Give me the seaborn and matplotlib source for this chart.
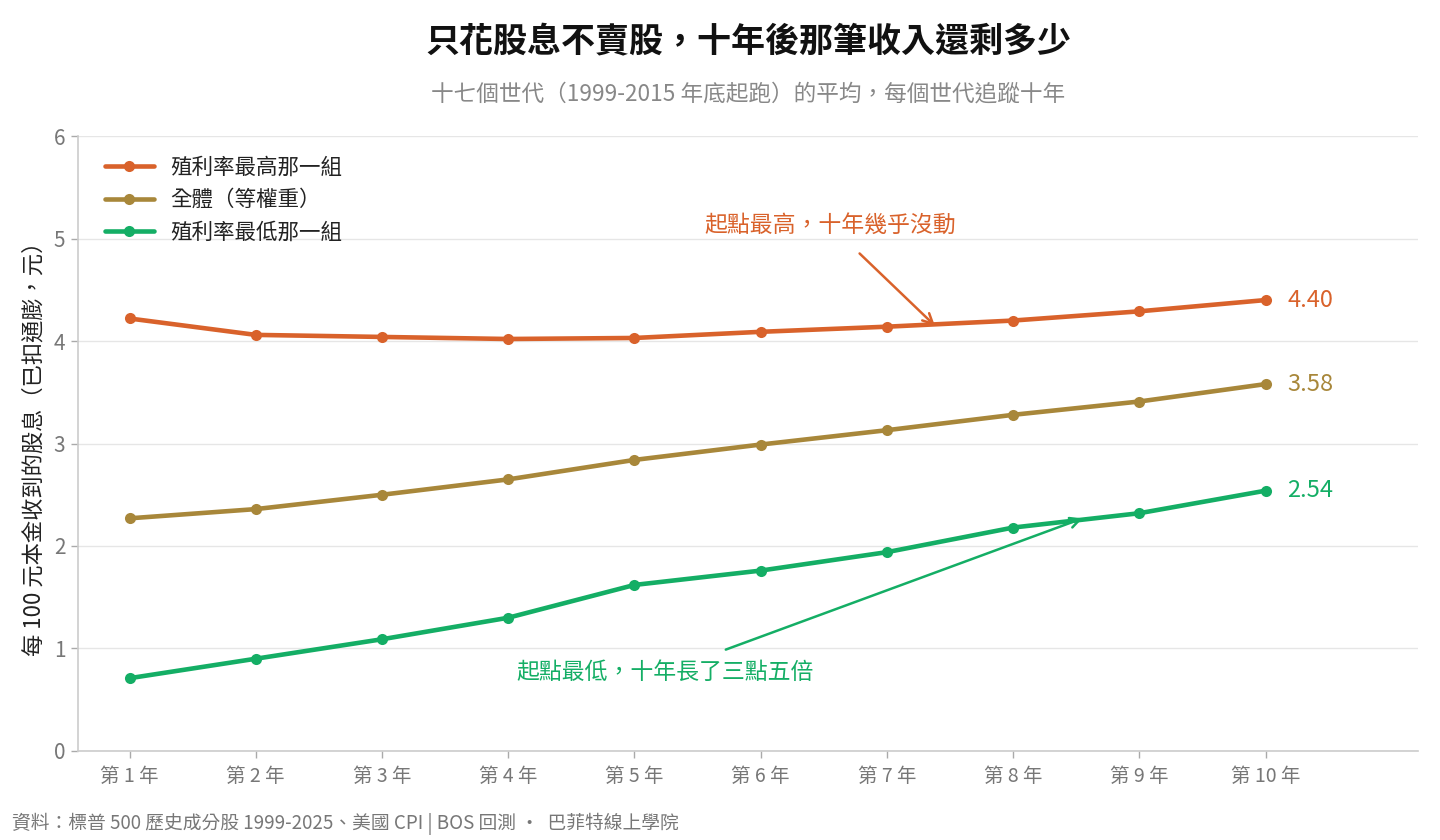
import matplotlib
matplotlib.use("Agg")
import matplotlib.pyplot as plt
import seaborn as sns
import pandas as pd

years = list(range(1, 11))
year_labels = [f"第 {y} 年" for y in years]
high_yield = [4.22, 4.06, 4.04, 4.02, 4.03, 4.09, 4.14, 4.20, 4.29, 4.40]
all_equal = [2.27, 2.36, 2.50, 2.65, 2.84, 2.99, 3.13, 3.28, 3.41, 3.58]
low_yield = [0.71, 0.90, 1.09, 1.30, 1.62, 1.76, 1.94, 2.18, 2.32, 2.54]
series_names = ["殖利率最高那一組", "全體（等權重）", "殖利率最低那一組"]
colors = ["#D9622B", "#A8873A", "#14AE65"]

sns.set_theme(style="white")
plt.rcParams["font.family"] = ["Noto Sans CJK TC", "DejaVu Sans"]

df = pd.DataFrame({
    "year": years * 3,
    "value": high_yield + all_equal + low_yield,
    "series": [series_names[0]] * 10 + [series_names[1]] * 10 + [series_names[2]] * 10,
})

fig = plt.figure(figsize=(14.4, 8.4), dpi=100)
ax = fig.add_axes([0.054, 0.106, 0.931, 0.732])

sns.lineplot(data=df, x="year", y="value", hue="series", palette=colors,
             hue_order=series_names, marker="o", markersize=8, linewidth=3.3,
             markeredgewidth=0, ax=ax)

ax.set_xlim(0.59, 11.21)
ax.set_ylim(0, 6)
ax.set_yticks(range(0, 7))
ax.set_xticks(years)
ax.set_xticklabels(year_labels)
ax.tick_params(axis="both", colors="#AAAAAA", labelsize=14, length=5, width=1,
               direction="out", left=True, bottom=True, pad=6)
ax.tick_params(axis="y", labelsize=15, pad=4)
for lab in ax.get_xticklabels() + ax.get_yticklabels():
    lab.set_color("#777777")
ax.grid(axis="y", color="#E6E6E6", linewidth=1)
ax.set_axisbelow(True)
for s in ["top", "right"]:
    ax.spines[s].set_visible(False)
for s in ["left", "bottom"]:
    ax.spines[s].set_color("#CCCCCC")
    ax.spines[s].set_linewidth(1.2)

ax.set_xlabel("")
ax.set_ylabel("每 100 元本金收到的股息（已扣通膨，元）", fontsize=16, color="#222222", labelpad=6)

leg = ax.legend(loc="upper left", bbox_to_anchor=(-0.0025, 1.016), frameon=False,
                fontsize=15.5, handlelength=2.3, handletextpad=0.75,
                labelspacing=0.5, borderaxespad=1.0)
for t in leg.get_texts():
    t.set_color("#222222")

# end labels
for vals, c in zip([high_yield, all_equal, low_yield], colors):
    ax.text(years[-1] + 0.17, vals[-1], f"{vals[-1]:.2f}", color=c, fontsize=17,
            va="center", ha="left")

# annotations
ax.annotate("起點最高，十年幾乎沒動", xy=(7.38, 4.15), xytext=(6.55, 5.13),
            color=colors[0], fontsize=16.5, ha="center", va="center",
            arrowprops=dict(arrowstyle="->", color=colors[0], lw=1.8,
                            shrinkA=14, shrinkB=0, mutation_scale=18))
ax.annotate("起點最低，十年長了三點五倍", xy=(8.55, 2.27), xytext=(5.24, 0.77),
            color=colors[2], fontsize=16.5, ha="center", va="center",
            arrowprops=dict(arrowstyle="->", color=colors[2], lw=1.8,
                            shrinkA=16, shrinkB=0, mutation_scale=18))

cx = 0.054 + 0.931 / 2
fig.text(cx, 0.950, "只花股息不賣股，十年後那筆收入還剩多少", ha="center", va="center",
         fontsize=24.5, fontweight="bold", color="#111111")
fig.text(cx, 0.888, "十七個世代（1999-2015 年底起跑）的平均，每個世代追蹤十年", ha="center",
         va="center", fontsize=16.3, color="#888888")
fig.text(0.008, 0.019, "資料：標普 500 歷史成分股 1999-2025、美國 CPI | BOS 回測 ·  巴菲特線上學院",
         ha="left", va="center", fontsize=13.5, color="#777777")

fig.savefig("out.png", dpi=100)
